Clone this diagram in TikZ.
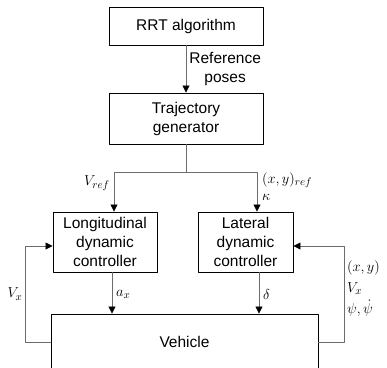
\documentclass[tikz,border=0pt]{standalone}
\usepackage{amsmath}
\usepackage{fontspec}
\setmainfont{Liberation Sans}
\usetikzlibrary{arrows,arrows.meta}

\tikzset{
  block/.style={draw=black,line width=0.9pt,fill=white,align=center,inner sep=2pt},
  conn/.style={draw=gray!85!black,line width=0.8pt},
  lbl/.style={inner sep=0pt,font=\fontsize{15.5}{19}\selectfont}
}

\begin{document}
\begin{tikzpicture}[line cap=round,line join=round,>={Triangle[width=7pt,length=7pt,black]},x=1pt,y=-1pt,
  every node/.style={font=\fontsize{15.5}{19}\selectfont}]
\useasboundingbox (0,0) rectangle (387,367);
% blocks
\node[block,minimum width=154,minimum height=38] (rrt) at (186,26) {RRT algorithm};
\node[block,minimum width=154,minimum height=51] (traj) at (186,118.5) {Trajectory\\generator};
\node[block,minimum width=104,minimum height=60] (lon) at (105,242) {Longitudinal\\dynamic\\controller};
\node[block,minimum width=95,minimum height=60] (lat) at (245.5,242) {Lateral\\dynamic\\controller};
\begin{scope}
\clip (0,0) rectangle (387,367);
\node[block,minimum width=267,minimum height=56] (veh) at (184.5,342) {Vehicle};
\end{scope}
% split points
\coordinate (split) at (186,172);
\coordinate (vref) at (114,172);
\coordinate (kref) at (257,172);
% connectors
\draw[conn,->] (rrt.south) -- (traj.north)
  node[midway,right,align=center,inner sep=1pt,xshift=2pt] (poses) {Reference\\poses};
\draw[conn] (traj.south) -- (split);
\draw[conn,->] (split) -- (vref) -- (vref |- lon.north);
\draw[conn,->] (split) -- (kref) -- (kref |- lat.north);
\draw[conn,->] ([xshift=7pt]lon.south) -- ([xshift=7pt]lon.south |- veh.north);
\draw[conn,->] ([xshift=13.5pt]lat.south) -- ([xshift=13.5pt]lat.south |- veh.north);
\draw[conn,->] (veh.west) -- ++(-25,0) |- ([yshift=-4pt]lon.west);
\draw[conn,->] (veh.east) -- ++(26,0) |- ([yshift=-4pt]lat.east);
% signal labels
\node[lbl,anchor=east] (vreflbl) at (110,183) {$V_{ref}$};
\node[lbl,anchor=west] (xyref) at (262,180) {$(x,y)_{ref}$};
\node[lbl,anchor=west] (kappa) at (262,197) {$\kappa$};
\node[lbl,anchor=west] (axlbl) at (116,294) {$a_x$};
\node[lbl,anchor=west] (dlbl) at (263,294) {$\delta$};
\node[lbl] (vxl) at (15,294) {$V_x$};
\node[lbl,anchor=west,align=left,font=\fontsize{15.5}{21}\selectfont] (states) at (347,288) {$(x,y)$\\$V_x$\\$\psi,\dot\psi$};
\end{tikzpicture}
\end{document}
